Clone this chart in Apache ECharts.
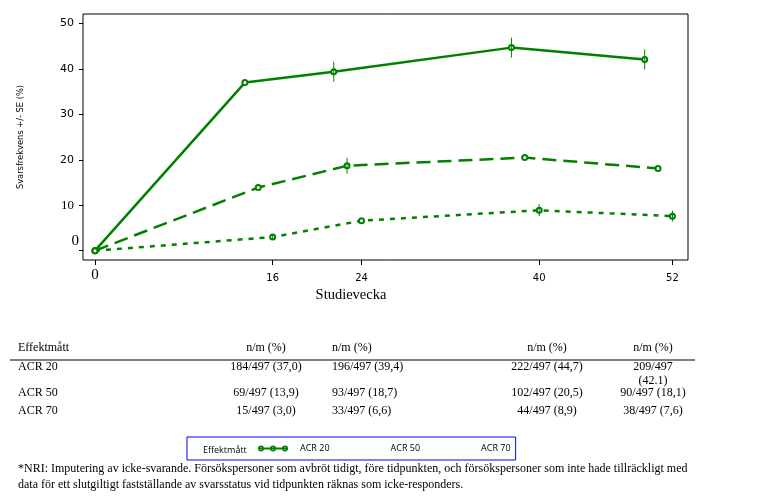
<!DOCTYPE html>
<html><head><meta charset="utf-8">
<script src="https://cdn.jsdelivr.net/npm/echarts@6/dist/echarts.min.js"></script>
<style>html,body{margin:0;padding:0;background:#fff}#c{width:766px;height:497px}</style>
</head><body><div id="c"></div>
<script>
// ---- data ----
const weekTicks = [0, 16, 24, 40, 52];
const yTicks = [0, 10, 20, 30, 40, 50];
const seriesNames = ['ACR 20', 'ACR 50', 'ACR 70'];
const acr20X = [0, 13.5, 21.5, 37.5, 49.5];
const acr20Y = [0, 37.0, 39.4, 44.7, 42.1];
const acr20SE = [null, null, 2.2, 2.2, 2.2];
const acr50X = [0, 14.7, 22.7, 38.7, 50.7];
const acr50Y = [0, 13.9, 18.7, 20.5, 18.1];
const acr50SE = [null, null, 1.75, null, null];
const acr70X = [0, 16, 24, 40, 52];
const acr70Y = [0, 3.0, 6.6, 8.9, 7.6];
const acr70SE = [null, 0.6, null, 1.3, 1.2];
const tableHeader = ['Effektmått', 'n/m (%)', 'n/m (%)', 'n/m (%)', 'n/m (%)'];
const rowACR20 = ['ACR 20', '184/497 (37,0)', '196/497 (39,4)', '222/497 (44,7)', '209/497', '(42.1)'];
const rowACR50 = ['ACR 50', '69/497 (13,9)', '93/497 (18,7)', '102/497 (20,5)', '90/497 (18,1)'];
const rowACR70 = ['ACR 70', '15/497 (3,0)', '33/497 (6,6)', '44/497 (8,9)', '38/497 (7,6)'];
const legendTitle = 'Effektmått';
const yAxisName = 'Svarsfrekvens +/- SE (%)';
const xAxisName = 'Studievecka';
const footnote = [
  '*NRI: Imputering av icke-svarande. Försökspersoner som avbröt tidigt, före tidpunkten, och försökspersoner som inte hade tillräckligt med',
  'data för ett slutgiltigt fastställande av svarsstatus vid tidpunkten räknas som icke-responders.'
];

// ---- helpers ----
const G = '#008000';
const SERIF = '"Liberation Serif", "Times New Roman", serif';
const SANS = '"DejaVu Sans", Verdana, sans-serif';
const zip = (xs, ys) => xs.map((x, i) => [x, ys[i]]);
const ebData = (xs, ys, se) => xs.map((x, i) => se[i] == null ? null : [x, ys[i] - se[i], ys[i] + se[i]]).filter(d => d);

function ring(cx) {
  return 'M' + (cx - 3) + ',4 A3,3 0 1 1 ' + (cx + 3) + ',4 A3,3 0 1 1 ' + (cx - 3) + ',4 Z ' +
         'M' + (cx - 1.6) + ',4 A1.6,1.6 0 1 0 ' + (cx + 1.6) + ',4 A1.6,1.6 0 1 0 ' + (cx - 1.6) + ',4 Z ';
}
const legendIcon = 'path://M0,3 L30,3 L30,5 L0,5 Z ' + ring(3) + ring(15) + ring(27);

function lineSeries(name, xs, ys, dash) {
  return {
    type: 'line', name: name, data: zip(xs, ys),
    symbol: 'emptyCircle', symbolSize: 5, z: 3,
    lineStyle: { color: G, width: 2.5, type: dash },
    itemStyle: { color: G, borderColor: '#3a9e3a', borderWidth: 0.7 },
    emphasis: { disabled: true }
  };
}
function errSeries(xs, ys, se) {
  return {
    type: 'custom', data: ebData(xs, ys, se), z: 4, silent: true,
    encode: { x: 0, y: [1, 2] },
    renderItem: function (params, api) {
      const p1 = api.coord([api.value(0), api.value(1)]);
      const p2 = api.coord([api.value(0), api.value(2)]);
      return { type: 'line', shape: { x1: p1[0], y1: p1[1], x2: p2[0], y2: p2[1] }, style: { stroke: G, lineWidth: 1 } };
    }
  };
}
function txt(text, x, y, align, font) {
  return { type: 'text', x: x, y: y, silent: true,
    style: { text: text, fill: '#000', font: font || ('12px ' + SERIF), textAlign: align || 'left', textVerticalAlign: 'middle' } };
}

// table layout
const colX = [18, 266, 332, 547, 653];
const colAlign = ['left', 'center', 'left', 'center', 'center'];
const graphics = [];
tableHeader.forEach((t, i) => graphics.push(txt(t, colX[i], 348, colAlign[i])));
graphics.push({ type: 'line', silent: true, shape: { x1: 10, y1: 360, x2: 695, y2: 360 }, style: { stroke: '#000', lineWidth: 1 } });
[[rowACR20, 367], [rowACR50, 393], [rowACR70, 411]].forEach(([row, y]) => {
  for (let i = 0; i < 5; i++) graphics.push(txt(row[i], colX[i], y, colAlign[i]));
});
graphics.push(txt(rowACR20[5], colX[4], 381, 'center'));
graphics.push(txt(legendTitle, 203, 450, 'left', '9px "Open Sans", sans-serif'));
graphics.push(txt(footnote[0], 18, 469, 'left'));
graphics.push(txt(footnote[1], 18, 485, 'left'));

const chart = echarts.init(document.getElementById('c'), null, { renderer: 'canvas' });
chart.setOption({
  animation: false,
  backgroundColor: '#fff',
  grid: { left: 83, top: 14, width: 605, height: 246, show: true, borderColor: '#000', borderWidth: 1 },
  xAxis: {
    type: 'value', min: -1.08, max: 53.4,
    axisLine: { show: false, onZero: false }, splitLine: { show: false },
    axisTick: { show: true, customValues: weekTicks, length: 5, lineStyle: { color: '#000' } },
    axisLabel: {
      customValues: weekTicks, margin: 8, color: '#000',
      formatter: v => v === 0 ? '{z|0}' : '{s|' + v + '}',
      rich: {
        z: { fontFamily: SERIF, fontSize: 15, color: '#000' },
        s: { fontFamily: SANS, fontSize: 10, color: '#000', padding: [5, 0, 0, 0] }
      }
    },
    name: xAxisName, nameLocation: 'middle', nameGap: 28,
    nameTextStyle: { fontFamily: SERIF, fontSize: 14.5, color: '#000', padding: [0, 69, 0, 0] }
  },
  yAxis: {
    type: 'value', min: -2.05, max: 52.1,
    axisLine: { show: false, onZero: false }, splitLine: { show: false },
    axisTick: { show: true, customValues: yTicks, length: 4, lineStyle: { color: '#000' } },
    axisLabel: {
      customValues: yTicks, margin: 4, color: '#000', align: 'right',
      formatter: v => v === 0 ? '{z|0}' : (v === 10 ? '{t|10}' : '{s|' + v + '}'),
      rich: {
        z: { fontFamily: SERIF, fontSize: 15, color: '#000', padding: [0, 0, 20, 0] },
        t: { fontFamily: SERIF, fontSize: 13, color: '#000', padding: [0, 5, 0, 0] },
        s: { fontFamily: SANS, fontSize: 11, color: '#000', padding: [0, 5, 0, 0] }
      }
    },
    name: yAxisName, nameLocation: 'middle', nameGap: 58, nameRotate: 90,
    nameTextStyle: { fontFamily: SANS, fontSize: 8.3, color: '#000' }
  },
  legend: {
    left: 187, top: 437, orient: 'horizontal', selectedMode: false,
    padding: [7, 5, 7, 71], itemGap: 18, itemWidth: 30, itemHeight: 7,
    borderColor: '#0000ff', borderWidth: 1,
    textStyle: { fontFamily: '"Open Sans", sans-serif', fontSize: 9, color: '#000', padding: [0, 0, 0, 7] },
    data: [
      { name: seriesNames[0], icon: legendIcon, itemStyle: { color: G, borderWidth: 0 } },
      { name: seriesNames[1], itemStyle: { opacity: 0 }, lineStyle: { opacity: 0 } },
      { name: seriesNames[2], itemStyle: { opacity: 0 }, lineStyle: { opacity: 0 } }
    ]
  },
  series: [
    lineSeries(seriesNames[0], acr20X, acr20Y, 'solid'),
    lineSeries(seriesNames[1], acr50X, acr50Y, [14, 7]),
    lineSeries(seriesNames[2], acr70X, acr70Y, [5, 6]),
    errSeries(acr20X, acr20Y, acr20SE),
    errSeries(acr50X, acr50Y, acr50SE),
    errSeries(acr70X, acr70Y, acr70SE)
  ],
  graphic: graphics
});
</script></body></html>
